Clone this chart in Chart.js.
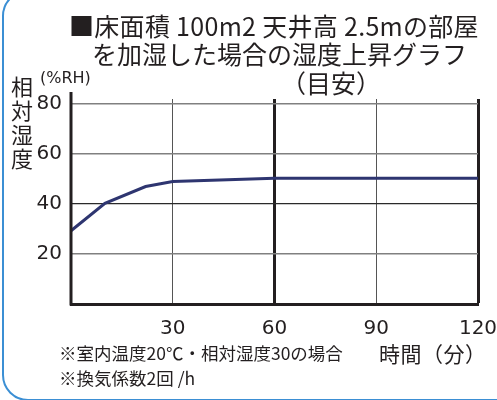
<!DOCTYPE html>
<html lang="ja">
<head>
<meta charset="utf-8">
<script src="https://cdn.jsdelivr.net/npm/chart.js@4/dist/chart.umd.min.js"></script>
<style>
  body { margin: 0; background: #fff; overflow: hidden; }
  #wrap { position: relative; width: 497px; height: 400px; overflow: hidden;
          font-family: "Noto Sans CJK JP", "Noto Sans", sans-serif; color: #231f20; }
  #marco { position: absolute; left: 2px; top: -10px; width: 600px; height: 407px;
           border: 2.5px solid #3b8fd4; border-radius: 26px; }
  canvas { position: absolute; left: 0; top: 0; }
  .txt { position: absolute; white-space: nowrap; }
</style>
</head>
<body>
<div id="wrap">
  <div id="marco"></div>
  <canvas id="grafico" width="497" height="400"></canvas>
  <div class="txt" style="left:69px; top:9px; font-size:25px; line-height:32px; letter-spacing:0.3px;">■床面積 100m2 天井高 2.5mの部屋</div>
  <div class="txt" style="left:92px; top:37px; font-size:25px; line-height:32px;">を加湿した場合の湿度上昇グラフ</div>
  <div class="txt" style="left:281px; top:66px; font-size:25px; line-height:32px;">（目安）</div>
  <div class="txt" style="left:11px; top:73px; font-size:22px; line-height:24px; width:24px; white-space:normal;">相対湿度</div>
  <div class="txt" style="left:40px; top:68px; font-family:'DejaVu Sans', sans-serif; font-size:16px; line-height:20px;">(%RH)</div>
  <div class="txt" style="left:379px; top:340px; font-size:21px; line-height:26px; letter-spacing:0.5px;">時間（分）</div>
  <div class="txt" style="left:59px; top:343px; font-size:17.5px; line-height:20px;">※室内温度20℃・相対湿度30の場合</div>
  <div class="txt" style="left:59px; top:368px; font-size:17.5px; line-height:20px;">※換気係数2回 /h</div>
</div>
<script>
// Datos
const minutos = [0, 10, 22, 30, 60, 120];
const humedad = [29.3, 40.3, 47, 49, 50.3, 50.3];
const ticksX = [30, 60, 90, 120];
const ticksY = [20, 40, 60, 80];

const puntos = minutos.map((m, i) => ({ x: m, y: humedad[i] }));

// Línea del eje Y, un poco más alta que el área del gráfico
const ejeIzquierdo = {
    id: 'ejeIzquierdo',
    afterDraw(chart) {
        const ctx = chart.ctx;
        const x = chart.scales.x.getPixelForValue(0);
        const yTop = chart.scales.y.getPixelForValue(84.8);
        const yBot = chart.chartArea.bottom + 1.5;
        ctx.save();
        ctx.strokeStyle = '#231f20';
        ctx.lineWidth = 3;
        ctx.beginPath();
        ctx.moveTo(x, yTop);
        ctx.lineTo(x, yBot);
        ctx.stroke();
        ctx.restore();
    }
};

new Chart(document.getElementById('grafico'), {
    type: 'scatter',
    data: {
        datasets: [{
            data: puntos,
            showLine: true,
            borderColor: '#2e3570',
            borderWidth: 3,
            pointRadius: 0,
            tension: 0
        }]
    },
    options: {
        responsive: false,
        animation: false,
        layout: { padding: { left: 0, right: 0, top: 99, bottom: 0 } },
        plugins: { legend: { display: false }, tooltip: { enabled: false } },
        scales: {
            x: {
                type: 'linear',
                min: 0,
                max: 120,
                afterBuildTicks: s => { s.ticks = ticksX.map(v => ({ value: v })); },
                afterFit: s => { s.height = 96; s.paddingRight = 19; },
                ticks: {
                    padding: 13,
                    color: '#231f20',
                    font: { family: 'DejaVu Sans, sans-serif', size: 20 }
                },
                grid: {
                    drawTicks: false,
                    color: ctx => (ctx.tick && (ctx.tick.value === 60 || ctx.tick.value === 120)) ? '#231f20' : '#555',
                    lineWidth: ctx => (ctx.tick && (ctx.tick.value === 60 || ctx.tick.value === 120)) ? 3 : 1
                },
                border: { display: true, color: '#231f20', width: 3 }
            },
            y: {
                type: 'linear',
                min: 0,
                max: 82,
                afterBuildTicks: s => { s.ticks = ticksY.map(v => ({ value: v })); },
                afterFit: s => { s.width = 71; },
                ticks: {
                    padding: 9,
                    color: '#231f20',
                    font: { family: 'DejaVu Sans, sans-serif', size: 20 }
                },
                grid: {
                    drawTicks: false,
                    color: ctx => (ctx.tick && ctx.tick.value === 40) ? '#2a2a2a' : '#808080',
                    lineWidth: ctx => (ctx.tick && ctx.tick.value === 40) ? 1.2 : 1.6
                },
                border: { display: false }
            }
        }
    },
    plugins: [ejeIzquierdo]
});
</script>
</body>
</html>
